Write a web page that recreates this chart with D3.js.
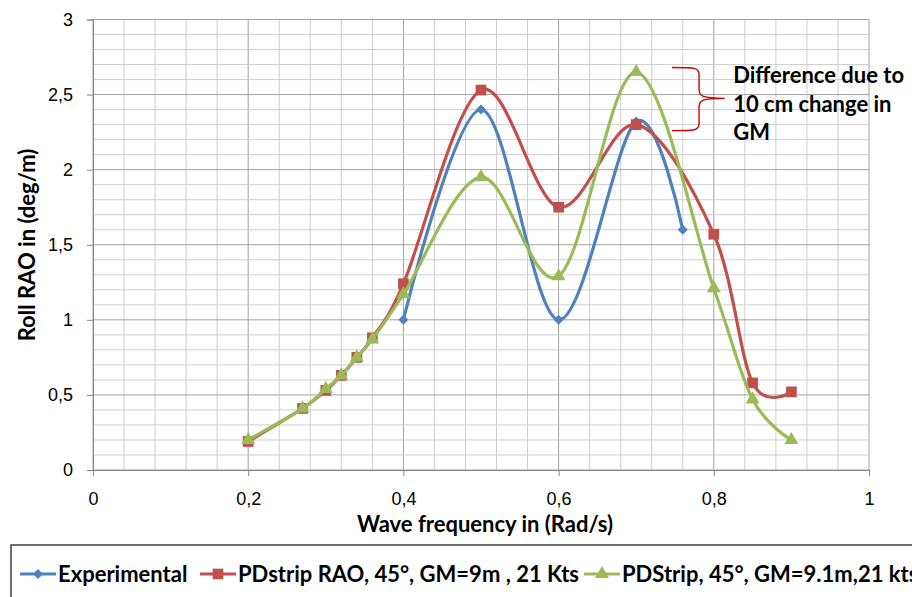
<!DOCTYPE html>
<html>
<head>
<meta charset="utf-8">
<script src="https://cdn.jsdelivr.net/npm/d3@7"></script>
<style>
  body { margin: 0; background: #fff; }
  svg { display: block; font-family: Lato, "Open Sans", sans-serif; }
  .grid-minor { stroke: #cfcfcf; stroke-width: 1; }
  .grid-major { stroke: #a2a2a2; stroke-width: 1; }
  .tick-label { font-size: 18px; fill: #000; }
  .axis-title { font-size: 22px; font-weight: bold; fill: #000; }
  .legend-text { font-size: 22px; font-weight: bold; fill: #000; }
  .note { font-size: 22px; font-weight: bold; fill: #000; }
</style>
</head>
<body>
<svg id="chart" width="912" height="597"></svg>
<script>
// wave frequency (rad/s) for each series
const expFreq = [0.4, 0.5, 0.6, 0.7, 0.76];
const expRao = [1.0, 2.4, 1.0, 2.32, 1.6];

const pdFreq = [0.2, 0.27, 0.3, 0.32, 0.34, 0.36, 0.4, 0.5, 0.6, 0.7, 0.8, 0.85, 0.9];
const pd9Rao = [0.19, 0.41, 0.53, 0.63, 0.75, 0.88, 1.24, 2.53, 1.75, 2.3, 1.57, 0.58, 0.52];
const pd91Rao = [0.2, 0.41, 0.54, 0.63, 0.75, 0.87, 1.17, 1.95, 1.29, 2.65, 1.21, 0.47, 0.2];

const seriesNames = ['Experimental', 'PDstrip RAO, 45°, GM=9m , 21 Kts', 'PDStrip, 45°, GM=9.1m,21 kts'];
const xTicks = [0, 0.2, 0.4, 0.6, 0.8, 1];
const yTicks = [0, 0.5, 1, 1.5, 2, 2.5, 3];
const noteLines = ['Difference due to', '10 cm change in', 'GM'];

const series = [
    {name: seriesNames[0], x: expFreq, y: expRao, color: '#4F81BD', marker: 'diamond'},
    {name: seriesNames[1], x: pdFreq, y: pd9Rao, color: '#C0504D', marker: 'square'},
    {name: seriesNames[2], x: pdFreq, y: pd91Rao, color: '#9BBB59', marker: 'triangle'}
];

const svg = d3.select('#chart');
const plot = {left: 93, right: 869, top: 19.5, bottom: 470};

const x = d3.scaleLinear().domain([0, 1]).range([plot.left, plot.right]);
const y = d3.scaleLinear().domain([0, 3]).range([plot.bottom, plot.top]);
const fmt = d => String(d).replace('.', ',');

// gridlines: minor every 0.04 / 0.1, major at the labelled ticks
const grid = svg.append('g');
d3.range(0, 26).map(i => i * 0.04).forEach(v => {
    const major = Math.abs(v / 0.2 - Math.round(v / 0.2)) < 1e-6;
    grid.append('line').attr('class', major ? 'grid-major' : 'grid-minor')
        .attr('x1', x(v)).attr('x2', x(v)).attr('y1', y(0)).attr('y2', y(3));
});
d3.range(0, 31).map(i => i * 0.1).forEach(v => {
    const major = Math.abs(v / 0.5 - Math.round(v / 0.5)) < 1e-6;
    grid.append('line').attr('class', major ? 'grid-major' : 'grid-minor')
        .attr('x1', x(0)).attr('x2', x(1)).attr('y1', y(v)).attr('y2', y(v));
});

// axes
const xAxis = svg.append('g').attr('transform', `translate(0,${y(0)})`)
    .call(d3.axisBottom(x).tickValues(xTicks).tickFormat(fmt).tickSize(6).tickPadding(16));
const yAxis = svg.append('g').attr('transform', `translate(${x(0)},0)`)
    .call(d3.axisLeft(y).tickValues(yTicks).tickFormat(fmt).tickSize(6).tickPadding(14));
[xAxis, yAxis].forEach(a => {
    a.select('.domain').attr('stroke', '#868686');
    a.selectAll('.tick line').attr('stroke', '#868686');
    a.selectAll('.tick text').attr('class', 'tick-label').attr('font-family', null).attr('font-size', null);
});

svg.append('text').attr('class', 'axis-title')
    .attr('x', (plot.left + plot.right) / 2 + 4).attr('y', 532)
    .attr('text-anchor', 'middle').text('Wave frequency in (Rad/s)');
svg.append('text').attr('class', 'axis-title')
    .attr('transform', `translate(35,${245}) rotate(-90)`)
    .attr('text-anchor', 'middle').text('Roll RAO in (deg/m)');

// marker shapes
const symbols = {
    diamond: d3.symbol().type(d3.symbolDiamond2).size(64),
    square: d3.symbol().type(d3.symbolSquare).size(115),
    triangle: d3.symbol().type(d3.symbolTriangle).size(85)
};

const line = d3.line().curve(d3.curveCardinal.tension(0));

series.forEach(s => {
    const pts = s.x.map((v, i) => [x(v), y(s.y[i])]);
    const g = svg.append('g');
    g.append('path').attr('d', line(pts))
        .attr('fill', 'none').attr('stroke', s.color).attr('stroke-width', 3.2);
    g.selectAll('path.marker').data(pts).enter().append('path')
        .attr('class', 'marker')
        .attr('transform', d => `translate(${d[0]},${d[1]})`)
        .attr('d', symbols[s.marker]())
        .attr('fill', s.color);
});

// annotation brace between the two PDstrip peaks
const bx0 = x(0.746), bx1 = x(0.781), bTip = x(0.814);
const bTop = y(2.68), bBot = y(2.26), bMid = y(2.475);
const brace = d3.path();
brace.moveTo(bx0, bTop);
brace.bezierCurveTo(bx1 - 4, bTop, bx1, bTop, bx1, bTop + 7);
brace.lineTo(bx1, bMid - 9);
brace.bezierCurveTo(bx1, bMid - 2, bx1 + 3, bMid, bTip, bMid);
brace.moveTo(bx0, bBot);
brace.bezierCurveTo(bx1 - 4, bBot, bx1, bBot, bx1, bBot - 7);
brace.lineTo(bx1, bMid + 9);
brace.bezierCurveTo(bx1, bMid + 2, bx1 + 3, bMid, bTip, bMid);
svg.append('path').attr('d', brace.toString())
    .attr('fill', 'none').attr('stroke', '#D00000').attr('stroke-width', 1.4);

svg.append('text').attr('class', 'note')
    .selectAll('tspan').data(noteLines).enter().append('tspan')
    .attr('x', x(0.825)).attr('y', (d, i) => 83 + i * 28.5)
    .text(d => d);

// legend box (runs past the right and bottom edges like the original)
const legend = svg.append('g');
legend.append('rect').attr('x', 11).attr('y', 545).attr('width', 940).attr('height', 80)
    .attr('fill', '#fff').attr('stroke', '#404040').attr('stroke-width', 1.5);
const legendX = [20, 200, 584];
series.forEach((s, i) => {
    const lx = legendX[i], ly = 574;
    legend.append('line').attr('x1', lx).attr('x2', lx + 36).attr('y1', ly).attr('y2', ly)
        .attr('stroke', s.color).attr('stroke-width', 3.2);
    legend.append('path').attr('transform', `translate(${lx + 18},${ly})`)
        .attr('d', symbols[s.marker]()).attr('fill', s.color);
    legend.append('text').attr('class', 'legend-text')
        .attr('x', lx + 38).attr('y', 582).text(s.name);
});
</script>
</body>
</html>
